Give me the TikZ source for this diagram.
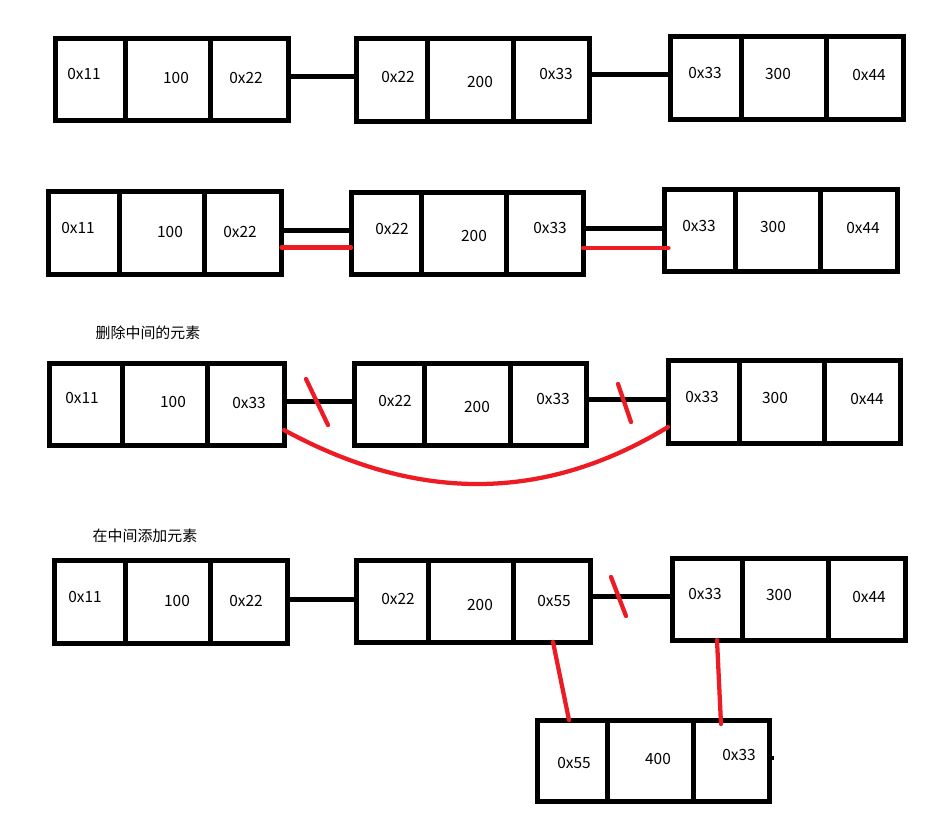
\documentclass[tikz,border=0pt]{standalone}
\usepackage{fontspec}
\setmainfont{Noto Sans CJK SC}
\definecolor{msred}{RGB}{237,28,36}
\newcommand\listnode[7]{%
  \node[box, minimum width={(#4-#2)*0.75pt}, minimum height={(#5-#3)*0.75pt}] (#1) at ({(#2+#4)/2},{(#3+#5)/2}) {};
  \draw[bline] (#1.north -| #6,0) -- (#1.south -| #6,0);
  \draw[bline] (#1.north -| #7,0) -- (#1.south -| #7,0);
}
\begin{document}
\begin{tikzpicture}[x=0.75pt,y=-0.75pt,
  box/.style={draw, line width=3.75pt, inner sep=0pt, outer sep=0pt, rectangle},
  bline/.style={line width=3.75pt},
  conn/.style={line width=3.75pt},
  redl/.style={draw=msred, line width=3.2pt, line cap=round},
  lbl/.style={inner sep=0pt, font=\fontsize{11.6}{13}\selectfont},
  title/.style={inner sep=0pt, font=\fontsize{11.2}{13}\selectfont},
]
\useasboundingbox (0,0) rectangle (949,813);

% ---------- Row 1 ----------
\listnode{A1}{55}{38.5}{288}{120.5}{125}{210.5}
\listnode{A2}{356.5}{39}{589.5}{121.5}{427}{513}
\listnode{A3}{670.5}{36.5}{903.5}{119.5}{741.5}{826.5}
\node[lbl] (a1a) at (84,74) {0x11};
\node[lbl] (a1b) at (176,78) {100};
\node[lbl] (a1c) at (246,78) {0x22};
\node[lbl] (a2a) at (398,77) {0x22};
\node[lbl] (a2b) at (480,82) {200};
\node[lbl] (a2c) at (556,74) {0x33};
\node[lbl] (a3a) at (705,73) {0x33};
\node[lbl] (a3b) at (778,74) {300};
\node[lbl] (a3c) at (869,75) {0x44};
\draw[conn] (A1.east |- 0,77) -- (A2.west |- 0,77);
\draw[conn] (A2.east |- 0,74.5) -- (A3.west |- 0,74.5);

% ---------- Row 2 ----------
\listnode{B1}{48.5}{191.5}{281.5}{274.5}{119.5}{204.5}
\listnode{B2}{351}{192}{583}{274}{421}{506}
\listnode{B3}{664.5}{189.5}{897.5}{271.5}{735}{820.5}
\node[lbl] (b1a) at (78,228) {0x11};
\node[lbl] (b1b) at (170,232) {100};
\node[lbl] (b1c) at (240,232) {0x22};
\node[lbl] (b2a) at (392,229) {0x22};
\node[lbl] (b2b) at (474,236) {200};
\node[lbl] (b2c) at (550,228) {0x33};
\node[lbl] (b3a) at (699,226) {0x33};
\node[lbl] (b3b) at (773,227) {300};
\node[lbl] (b3c) at (863,228) {0x44};
\draw[conn] (B1.east |- 0,230) -- (B2.west |- 0,230);
\draw[redl] (B1.east |- 0,247.5) -- (B2.west |- 0,247.5);
\draw[conn] (B2.east |- 0,228) -- (B3.west |- 0,228);
\draw[redl] (B2.east |- 0,248) -- ([xshift=3pt]B3.west |- 0,248);

% ---------- Row 3 ----------
\node[title] (t3) at (148,333) {删除中间的元素};
\listnode{C1}{49}{363}{284}{445}{122}{207}
\listnode{C2}{354}{363}{586}{445}{424}{510}
\listnode{C3}{668}{360.5}{900.5}{443}{739}{824}
\node[lbl] (c1a) at (82,398) {0x11};
\node[lbl] (c1b) at (173,402) {100};
\node[lbl] (c1c) at (249,403) {0x33};
\node[lbl] (c2a) at (395,401) {0x22};
\node[lbl] (c2b) at (477,407) {200};
\node[lbl] (c2c) at (553,399) {0x33};
\node[lbl] (c3a) at (702,397) {0x33};
\node[lbl] (c3b) at (775,398) {300};
\node[lbl] (c3c) at (867,399) {0x44};
\draw[conn] (C1.east |- 0,401) -- (C2.west |- 0,401);
\draw[conn] (C2.east |- 0,399) -- (C3.west |- 0,399);
\draw[redl] (306,379) -- (328,425);
\draw[redl] (618,384) -- (631,422);
\draw[redl] (C1.east |- 0,430) .. controls (418,503) and (545,502) .. (C3.west |- 0,427);

% ---------- Row 4 ----------
\node[title] (t4) at (145,536) {在中间添加元素};
\listnode{D1}{54}{560}{287}{643}{125}{210}
\listnode{D2}{356.5}{560.5}{590}{642}{428}{513}
\listnode{D3}{672}{558}{905}{640}{742}{828}
\listnode{E}{537}{720}{769}{801}{607}{693}
\node[lbl] (d1a) at (85,597) {0x11};
\node[lbl] (d1b) at (177,601) {100};
\node[lbl] (d1c) at (246,601) {0x22};
\node[lbl] (d2a) at (398,599) {0x22};
\node[lbl] (d2b) at (480,605) {200};
\node[lbl] (d2c) at (554,601) {0x55};
\node[lbl] (d3a) at (705,594) {0x33};
\node[lbl] (d3b) at (779,595) {300};
\node[lbl] (d3c) at (869,597) {0x44};
\node[lbl] (ea) at (574,763) {0x55};
\node[lbl] (eb) at (658,759) {400};
\node[lbl] (ec) at (739,755) {0x33};
\draw[conn] (D1.east |- 0,599) -- (D2.west |- 0,599);
\draw[conn] (D2.east |- 0,596) -- (D3.west |- 0,596);
\draw[redl] (611,577) -- (626,616);
\draw[redl] (D2.south -| 553,0) -- (E.north -| 569,0);
\draw[redl] (D3.south -| 717,0) -- ([yshift=-3pt]E.north -| 721,0);
\coordinate (estub) at (774,758);
\draw[line width=2.5pt] (E.east |- estub) -- (estub);
\end{tikzpicture}
\end{document}
